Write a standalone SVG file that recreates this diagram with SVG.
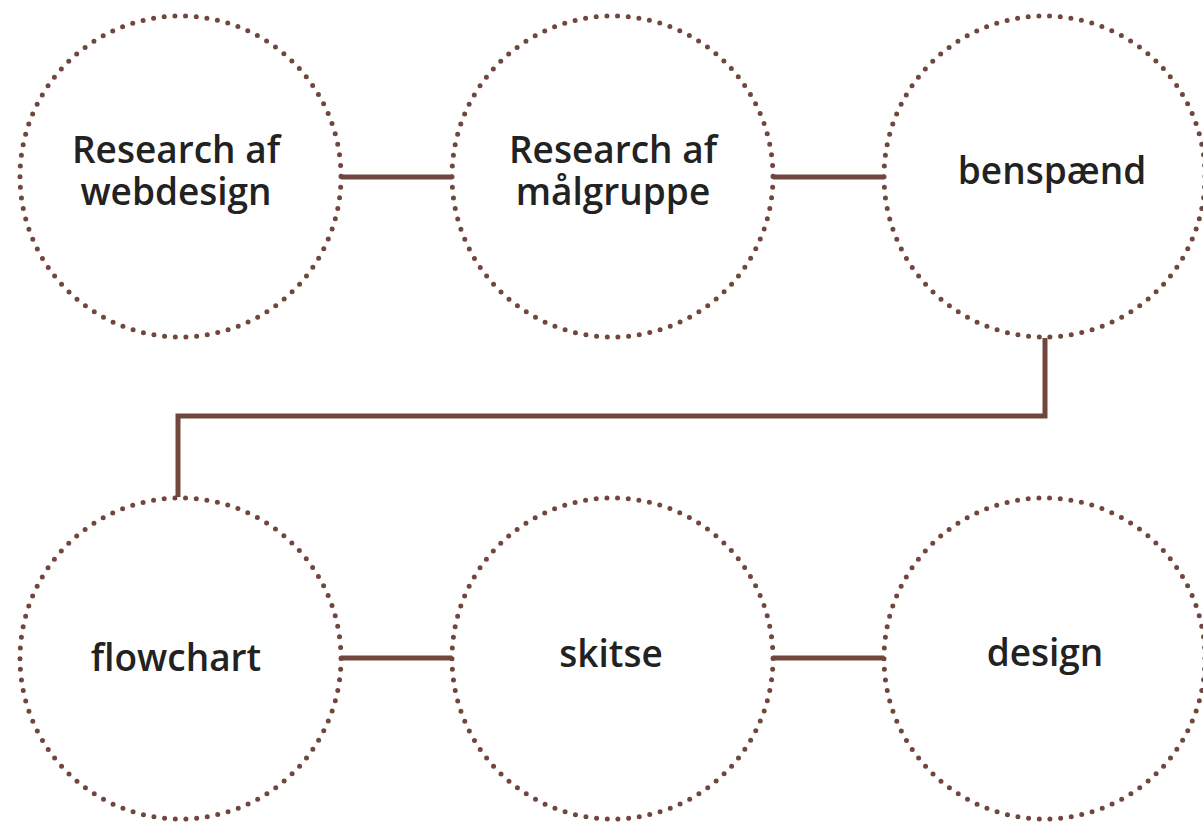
<svg xmlns="http://www.w3.org/2000/svg" width="1203" height="823" viewBox="0 0 1203 823">
<style>
.node circle{fill:#fff;stroke:#71463c;stroke-width:5;stroke-linecap:round;stroke-dasharray:0 10.72}
.node text{font-family:"Open Sans","Noto Sans","Liberation Sans",sans-serif;font-weight:600;font-size:37px;fill:#222;text-anchor:middle}
.conn{fill:none;stroke:#71463c;stroke-width:5}
</style>
<rect width="1203" height="823" fill="#fff"/>
<g id="connectors">
<path class="conn" stroke-linecap="round" d="M340 177H453"/>
<path class="conn" stroke-linecap="round" d="M773 177H885"/>
<path class="conn" d="M1045 338V416H178V497"/>
<path class="conn" stroke-linecap="round" d="M340 658H452"/>
<path class="conn" stroke-linecap="round" d="M772 658H884"/>
</g>
<g id="n1" class="node"><circle cx="180.5" cy="176.5" r="160.5"/><text x="176" y="163">Research af</text><text x="176" y="205">webdesign</text></g>
<g id="n2" class="node"><circle cx="612.5" cy="176.5" r="160.5"/><text x="613" y="163">Research af</text><text x="613" y="205">målgruppe</text></g>
<g id="n3" class="node"><circle cx="1044.5" cy="176.5" r="160.5"/><text x="1052" y="184">benspænd</text></g>
<g id="n4" class="node"><circle cx="180.5" cy="658.5" r="160.5"/><text x="176" y="671">flowchart</text></g>
<g id="n5" class="node"><circle cx="612.5" cy="658.5" r="160.5"/><text x="611" y="667">skitse</text></g>
<g id="n6" class="node"><circle cx="1044.5" cy="658.5" r="160.5"/><text x="1045" y="666">design</text></g>
</svg>
